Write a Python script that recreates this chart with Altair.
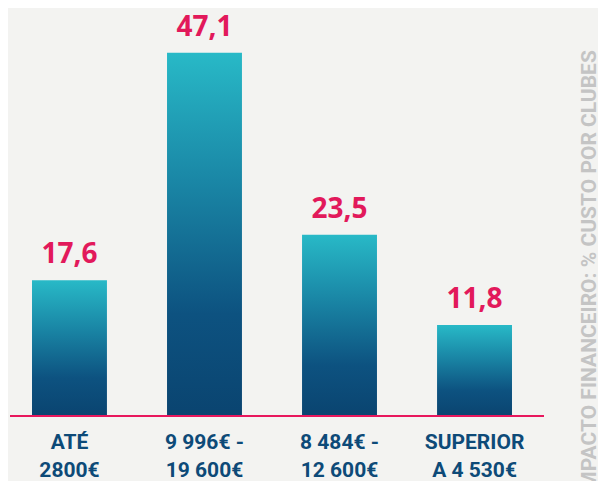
import altair as alt
import pandas as pd

line1 = ["ATÉ", "9 996€ -", "8 484€ -", "SUPERIOR"]
line2 = ["2800€", "19 600€", "12 600€", "A 4 530€"]
values = [17.6, 47.1, 23.5, 11.8]
value_labels = ["17,6", "47,1", "23,5", "11,8"]
side_title = "IMPACTO FINANCEIRO: % CUSTO POR CLUBES"

cats = [a + "\n" + b for a, b in zip(line1, line2)]
df = pd.DataFrame({"cat": cats, "value": values, "label": value_labels})

NAVY = "#0d4a78"
PINK = "#e2195b"
COND = "Roboto"

x = alt.X("cat:N", sort=cats,
          scale=alt.Scale(paddingInner=0.445, paddingOuter=0.163),
          axis=alt.Axis(title=None, domain=False, ticks=False, labelAngle=0,
                        labelExpr="split(datum.label, '\\n')",
                        labelFont=COND, labelFontSize=21, labelFontWeight="bold",
                        labelColor=NAVY, labelLineHeight=28, labelPadding=15,
                        labelBaseline="top"))
y = alt.Y("value:Q", scale=alt.Scale(domain=[0, 52.9], nice=False, zero=True),
          axis=None)

base = alt.Chart(df)

bars = base.mark_bar(
    color=alt.Gradient(
        gradient="linear", x1=0, x2=0, y1=0, y2=1,
        stops=[
            alt.GradientStop(color="#28b9c7", offset=0),
            alt.GradientStop(color="#1a87a6", offset=0.35),
            alt.GradientStop(color="#0d5280", offset=0.72),
            alt.GradientStop(color="#0a4470", offset=1),
        ],
    )
).encode(x=x, y=y)

texts = base.mark_text(font="Open Sans", fontSize=28, fontWeight="bold",
                       color=PINK, dy=-17, baseline="alphabetic").encode(
    x=x, y=y, text="label:N")

rule = alt.Chart(pd.DataFrame({"v": [0]})).mark_rule(
    color="#e8175d", strokeWidth=2).encode(
    y=alt.Y("v:Q", scale=alt.Scale(domain=[0, 52.9], nice=False)),
    x=alt.value(0), x2=alt.value(534))

side = alt.Chart(pd.DataFrame({"t": [side_title]})).mark_text(
    font=COND, fontSize=21, fontWeight="bold", color="#c4c4c4",
    angle=270, align="center", baseline="middle").encode(
    text="t:N", x=alt.value(580), y=alt.value(265))

chart = alt.layer(bars, texts, rule, side).properties(
    width=524, height=408,
    autosize=alt.AutoSizeParams(type="none"),
    padding={"left": 2, "top": 0, "right": 64, "bottom": 65},
    background="#f3f3f1",
).configure_view(stroke=None)

chart.save("out.html", embed_options={"renderer": "svg", "actions": False})
